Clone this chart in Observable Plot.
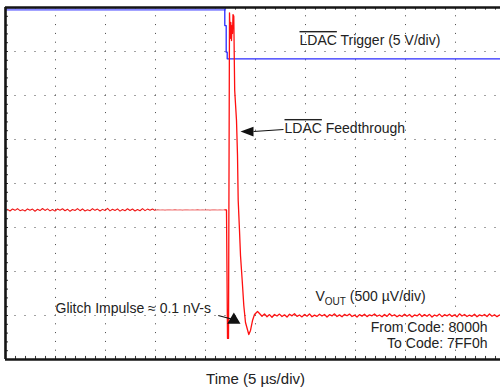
<!DOCTYPE html>
<html><head><meta charset="utf-8">
<script src="https://cdn.jsdelivr.net/npm/d3@7"></script>
<script src="https://cdn.jsdelivr.net/npm/@observablehq/plot@0.6"></script>
<style>body{margin:0;background:#fff;} #chart svg{display:block}</style>
</head><body><div id="chart"></div>
<script>
// ---- scope settings ----
const usPerDiv = 5;        // time base
const uvPerDiv = 500;      // VOUT channel
const voltsPerDiv = 5;     // LDAC channel
const sampleStepUs = 0.25;

// ---- VOUT trace (µV relative to screen centre) ----
const leftBaseUV = -300;
const rightBaseUV = -1500;
const leftStartUs = 0.2;
const midStartUs = 15.2;
const rightStartUs = 25.4;
const leftNoiseUV = [6,-12,10,-5,14,-9,3,-13,11,-4,9,-15,7,-8,16,-6,12,-11,4,-14,10,-3,13,-10,8,-16,5,-7,15,-9,11,-12,2,-10,14,-5,9,-13,6,-8,17,-11,7,-6,12,-14,4,-9,13,-7,10,-12,5,-10,15,-8,9,-4,11,-6];
const midNoiseUV = [3,-2,1,-3,2,0,-2,3,-1,2,-3,1,0,-2,2,-1,3,-2,1,-1,2,-3,1,0,-2,2,-1,1];
const transientTimeUs = [22.1,22.2,22.3,22.4,22.47,22.53,22.6,22.65,22.7,22.75,22.83,22.88,22.92,23.1,23.2,23.27,23.4,23.5,23.67,23.83,24.0,24.33,24.5,24.7,24.9,25.2];
const transientUV = [-300,-1760,-1760,1940,1650,1830,1625,1795,1705,1920,1900,1400,1057,716,318,-193,-534,-818,-1102,-1386,-1580,-1716,-1670,-1557,-1489,-1455];
const rightNoiseUV = [22,-8,18,-14,10,-20,12,-6,16,-12,8,-18,14,-4,20,-10,6,-16,12,-8,18,-14,4,-10,15,-6,11,-17,9,-5,
 19,-12,7,-15,13,-3,16,-11,5,-18,10,-7,14,-13,8,-4,17,-9,6,-15,
 12,-10,20,-6,9,-14,4,-11,15,-8,11,-16,7,-5,18,-12,10,-9,13,-17,
 6,-7,16,-13,9,-4,14,-10,8,-15,19,-6,11,-12,5,-9,15,-14,7,-5,
 12,-11,17,-8,9,-13,6,-7,14];

// ---- LDAC trigger trace (V relative to screen centre) ----
const ldacTimeUs = [0.1, 21.93, 21.93, 22.07, 22.07, 22.17, 22.17, 50];
const ldacVolts  = [19.77, 19.77, 17.95, 17.95, 14.92, 14.92, 14.17, 14.17];

// ---- annotation texts ----
const leftLabelTexts = ["LDAC Trigger (5 V/div)", "LDAC Feedthrough", "Glitch Impulse \u2248 0.1 nV-s", "VOUT (500 \u00b5V/div)"];
const leftLabelTimeUs = [29.4, 27.9, 5.0, 31.0];
const leftLabelDiv = [3.25, 1.25, -2.84, -2.57];
const rightLabelTexts = ["From Code: 8000h", "To Code: 7FF0h"];
const rightLabelTimeUs = [48.2, 48.2];
const rightLabelDiv = [-3.27, -3.64];
const xTitle = "Time (5 \u00b5s/div)";

// ---- build rows ----
const preRows = leftNoiseUV.map((n, i) => ({t: leftStartUs + i * sampleStepUs, v: (leftBaseUV + n) / uvPerDiv}));
const midRows = [preRows[preRows.length - 1]].concat(midNoiseUV.map((n, i) => ({t: midStartUs + i * sampleStepUs, v: (leftBaseUV + n) / uvPerDiv})));
const postRows = [midRows[midRows.length - 1]]
  .concat(transientTimeUs.map((t, i) => ({t, v: transientUV[i] / uvPerDiv})))
  .concat(rightNoiseUV.map((n, i) => ({t: rightStartUs + i * sampleStepUs, v: (rightBaseUV + n) / uvPerDiv})));
const ldacRows = ldacTimeUs.map((t, i) => ({t, v: ldacVolts[i] / voltsPerDiv}));
const leftLabels = leftLabelTexts.map((s, i) => ({t: leftLabelTimeUs[i], v: leftLabelDiv[i], s}));
const rightLabels = rightLabelTexts.map((s, i) => ({t: rightLabelTimeUs[i], v: rightLabelDiv[i], s}));

const minorT = d3.range(1, 50);
const minorDiv = d3.range(-19, 20).map(k => k / 5);

const headFeed = {draw(ctx) { ctx.moveTo(0, 0); ctx.lineTo(-13, -4.8); ctx.lineTo(-13, 4.8); ctx.closePath(); }};
const headGlitch = {draw(ctx) { ctx.moveTo(0, 0); ctx.lineTo(-11.5, -6.6); ctx.lineTo(-11.5, 6.6); ctx.closePath(); }};

const font = "'Liberation Sans', Arial, Helvetica, sans-serif";

const chart = Plot.plot({
  width: 500, height: 390,
  marginLeft: 5, marginTop: 7, marginBottom: 31, marginRight: 0,
  x: {domain: [0, 10 * usPerDiv], range: [5, 505], axis: null},
  y: {domain: [-4, 4], range: [359, 7], axis: null},
  style: {fontFamily: font, background: "#fff", color: "#222"},
  marks: [
    // dotted graticule
    Plot.ruleX(d3.range(1, 10).map(i => i * usPerDiv), {y1: -4, y2: 4, stroke: "#444", strokeWidth: 1, strokeDasharray: "1,7.8", strokeDashoffset: 0.5}),
    Plot.ruleY(d3.range(-3, 4), {x1: 0, x2: 50, stroke: "#444", strokeWidth: 1, strokeDasharray: "1,9", strokeDashoffset: 0.5}),
    // border minor ticks
    Plot.ruleX(minorT, {y1: 4, y2: 4 - 0.06, stroke: "#333"}),
    Plot.ruleX(minorT, {y1: -4, y2: -4 + 0.07, stroke: "#333"}),
    Plot.ruleY(minorDiv, {x1: 0, x2: 0.3, stroke: "#333"}),
    // LDAC trigger
    Plot.line(ldacRows.slice(0, 2), {x: "t", y: "v", stroke: "#8585ff", strokeWidth: 2.5}),
    Plot.line(ldacRows.slice(1), {x: "t", y: "v", stroke: "#2a2aff", strokeWidth: 1.3}),
    // VOUT
    Plot.line(preRows, {x: "t", y: "v", stroke: "#f01818", strokeWidth: 1.1}),
    Plot.line(midRows, {x: "t", y: "v", stroke: "#f07a7a", strokeWidth: 1.1}),
    Plot.line(postRows, {x: "t", y: "v", stroke: "#ff1010", strokeWidth: 1.3}),
    // frame
    Plot.ruleY([4, -4], {x1: 0, x2: 50, stroke: "#151515", strokeWidth: 2.6}),
    Plot.ruleX([0], {y1: -4, y2: 4, stroke: "#151515", strokeWidth: 2.6}),
    // arrows
    Plot.link([{x1: 27.8, y1: 1.227, x2: 24.8, y2: 1.182}], {x1: "x1", y1: "y1", x2: "x2", y2: "y2", stroke: "#111", strokeWidth: 1.2}),
    Plot.dot([{t: 23.5, v: 1.18}], {x: "t", y: "v", symbol: headFeed, fill: "#111", stroke: null, rotate: 180}),
    Plot.link([{x1: 21.27, y1: -3.0, x2: 22.6, y2: -3.08}], {x1: "x1", y1: "y1", x2: "x2", y2: "y2", stroke: "#111", strokeWidth: 1.2}),
    Plot.dot([{t: 23.5, v: -3.19}], {x: "t", y: "v", symbol: headGlitch, fill: "#111", stroke: null, rotate: 30}),
    // labels
    Plot.text(leftLabels, {x: "t", y: "v", text: "s", textAnchor: "start", fontSize: 14, fill: "#222", fontFamily: font}),
    Plot.text(rightLabels, {x: "t", y: "v", text: "s", textAnchor: "end", fontSize: 14, fill: "#222", fontFamily: font}),
    Plot.text([{t: 25, v: -4}], {x: "t", y: "v", text: () => xTitle, dy: 20, fontSize: 15, fill: "#222", fontFamily: font})
  ]
});

// rich text: overline on LDAC, subscript OUT
d3.select(chart).selectAll("text").each(function() {
  const s = this.textContent;
  const sel = d3.select(this);
  if (s.startsWith("LDAC")) {
    this.textContent = "";
    sel.append("tspan").style("text-decoration", "overline").text("LDAC");
    sel.append("tspan").text(s.slice(4));
  } else if (s.startsWith("VOUT")) {
    this.textContent = "";
    sel.append("tspan").text("V");
    sel.append("tspan").attr("font-size", 10).attr("dy", 4).text("OUT");
    sel.append("tspan").attr("dy", -4).text(s.slice(4));
  }
});
document.getElementById("chart").appendChild(chart);
</script></body></html>
